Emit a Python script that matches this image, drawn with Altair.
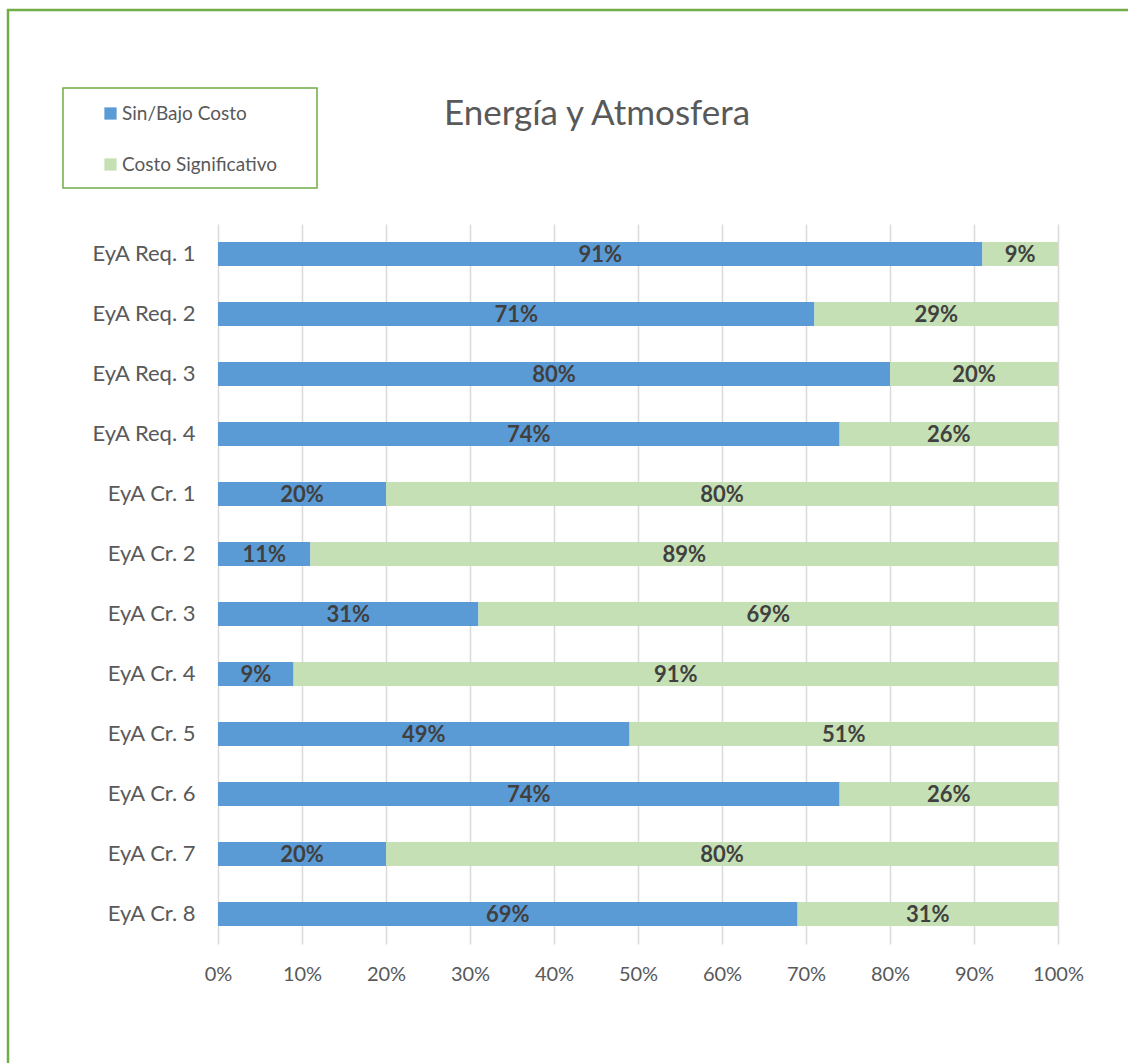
import altair as alt
import pandas as pd

TITLE = "Energía y Atmosfera"
CATS = ["EyA Req. 1", "EyA Req. 2", "EyA Req. 3", "EyA Req. 4",
        "EyA Cr. 1", "EyA Cr. 2", "EyA Cr. 3", "EyA Cr. 4",
        "EyA Cr. 5", "EyA Cr. 6", "EyA Cr. 7", "EyA Cr. 8"]
SERIES = ["Sin/Bajo Costo", "Costo Significativo"]
SIN_BAJO = [91, 71, 80, 74, 20, 11, 31, 9, 49, 74, 20, 69]
COSTO_SIG = [9, 29, 20, 26, 80, 89, 69, 91, 51, 26, 80, 31]
COLORS = ["#5B9BD5", "#C5E0B4"]
TICKS = [0, 10, 20, 30, 40, 50, 60, 70, 80, 90, 100]

rows = []
for i, c in enumerate(CATS):
    rows.append({"cat": c, "serie": SERIES[0], "val": SIN_BAJO[i], "ord": 0})
    rows.append({"cat": c, "serie": SERIES[1], "val": COSTO_SIG[i], "ord": 1})
df = pd.DataFrame(rows)

FONT = "Lato"
GREEN = "#70AD47"

base = alt.Chart(df).transform_stack(
    stack="val", groupby=["cat"], as_=["v0", "v1"],
    sort=[alt.SortField("ord", order="ascending")]
).transform_calculate(mid="(datum.v0 + datum.v1) / 2")

yenc = alt.Y("cat:N", sort=CATS, title=None,
             scale=alt.Scale(paddingInner=0.6, paddingOuter=0.3),
             axis=alt.Axis(domain=False, ticks=False, labelFontSize=22, labelFont=FONT,
                           labelColor="#595959", labelPadding=23, grid=False))

xscale = alt.Scale(domain=[0, 100], nice=False)

bars = base.mark_bar().encode(
    x=alt.X("v0:Q", scale=xscale, title=None,
            axis=alt.Axis(values=TICKS, labelExpr="datum.value + '%'", domain=False, ticks=False,
                          grid=True, gridColor="#D9D9D9", gridWidth=1.5, labelFlush=False,
                          labelFontSize=20, labelFont=FONT, labelColor="#595959",
                          labelPadding=20)),
    x2="v1:Q",
    y=yenc,
    color=alt.Color("serie:N", sort=SERIES,
                    scale=alt.Scale(domain=SERIES, range=COLORS),
                    legend=alt.Legend(title=None, orient="none", legendX=-117, legendY=-120,
                                      symbolType="square", symbolSize=150, symbolStrokeWidth=0,
                                      labelFontSize=19, labelFont=FONT, labelColor="#595959",
                                      labelOffset=2, rowPadding=31, direction="vertical")),
    order=alt.Order("ord:Q"),
)

labels = base.mark_text(font=FONT, fontWeight="bold", fontSize=22, color="#404040",
                        baseline="middle", dy=1).encode(
    x=alt.X("mid:Q", scale=xscale),
    y=alt.Y("cat:N", sort=CATS),
    text=alt.Text("label:N"),
).transform_calculate(label="datum.val + '%'")

title = alt.Chart(pd.DataFrame({"t": [TITLE]})).mark_text(
    font=FONT, fontSize=35, color="#595959", align="center", baseline="middle"
).encode(x=alt.value(379), y=alt.value(-110), text="t:N")

legend_box = alt.Chart(pd.DataFrame({"a": [0]})).mark_rect(
    fill="white", fillOpacity=0, stroke=GREEN, strokeWidth=1.5
).encode(x=alt.value(-155), x2=alt.value(99), y=alt.value(-136), y2=alt.value(-36))

outer_box = alt.Chart(pd.DataFrame({"a": [0]})).mark_rect(
    fill="white", fillOpacity=0, stroke=GREEN, strokeWidth=2.5
).encode(x=alt.value(-210), x2=alt.value(930), y=alt.value(-214), y2=alt.value(860))

chart = alt.layer(outer_box, legend_box, title, bars, labels).properties(
    width=840, height=720,
    autosize=alt.AutoSizeParams(type="none"),
    padding={"left": 218, "top": 224, "right": 70, "bottom": 119},
    background="white",
).configure_view(stroke=None)

chart.save("out.html", embed_options={"renderer": "svg", "actions": False})
